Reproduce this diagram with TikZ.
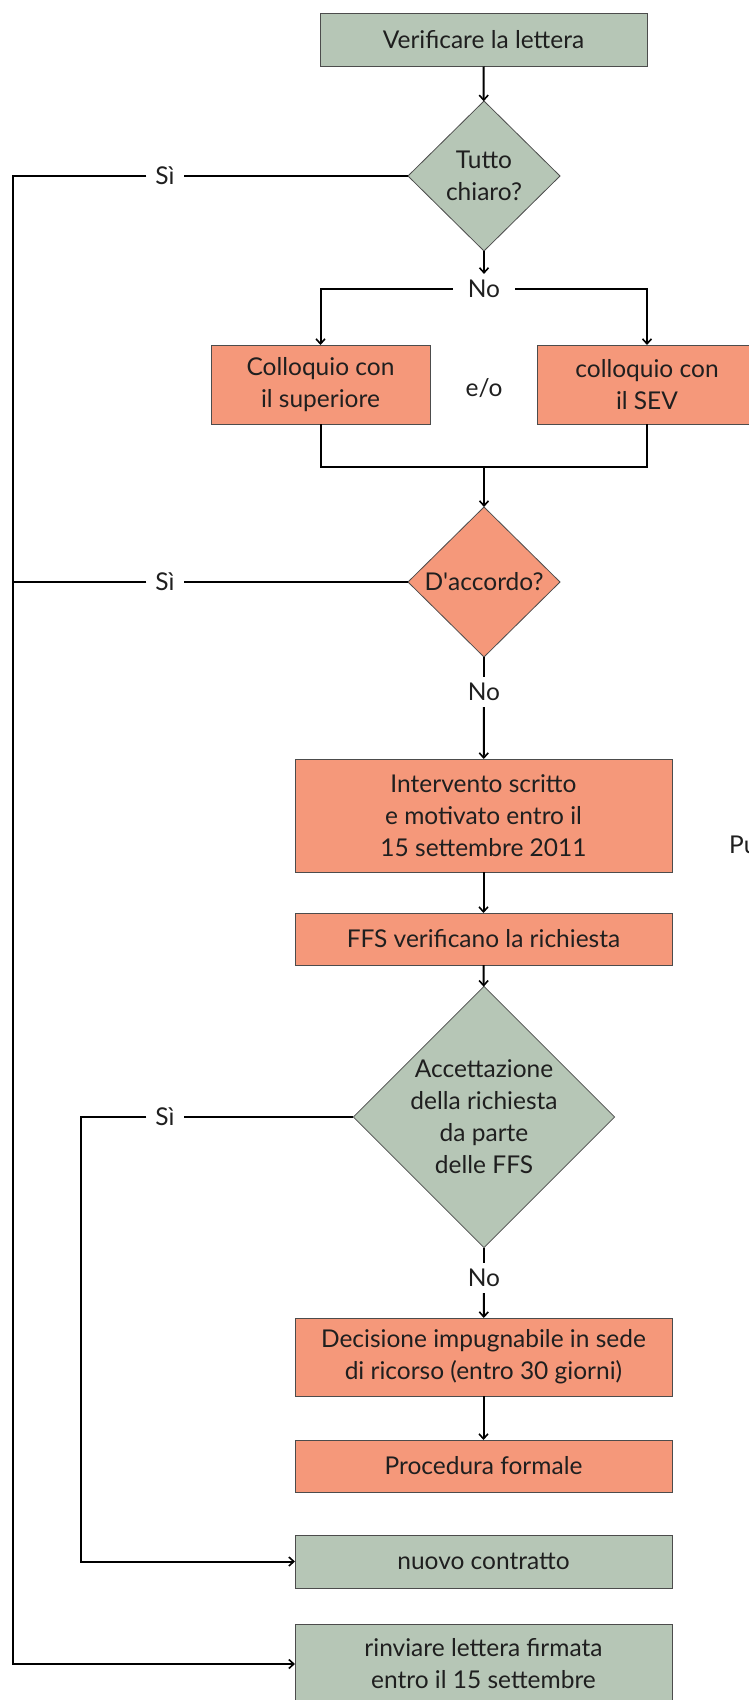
\documentclass[tikz,border=0pt]{standalone}
\usepackage{fontspec}
\setmainfont{Lato}
\usetikzlibrary{shapes.geometric,arrows.meta}
\definecolor{boxgreen}{HTML}{B6C6B6}
\definecolor{boxsalmon}{HTML}{F5987A}
\begin{document}
\begin{tikzpicture}[x=1pt,y=-1pt,
  every node/.style={font=\fontsize{24.5}{32}\selectfont, text=black!88},
  base/.style={draw=black!70, line width=0.8pt, align=center, inner sep=0pt, outer sep=0pt},
  gbox/.style={base, rectangle, fill=boxgreen},
  sbox/.style={base, rectangle, fill=boxsalmon},
  gdia/.style={base, diamond, aspect=1, fill=boxgreen},
  sdia/.style={base, diamond, aspect=1, fill=boxsalmon},
  conn/.style={line width=2pt, black},
  arr/.style={conn, -{Straight Barb[length=5pt,width=9pt,line width=1.6pt]}},
  lbl/.style={inner xsep=9pt, inner ysep=6pt}
]
\useasboundingbox (0,0) rectangle (749,1700);

% nodes
\node[gbox, minimum width=327pt, minimum height=53pt] (verif) at (483.5,40) {Verificare la lettera};
\node[gdia, minimum width=152pt, minimum height=150pt] (chiaro) at (484,176) {Tutto\\chiaro?};
\node[lbl, inner xsep=15pt] (no1) at (484,289) {No};
\node[sbox, minimum width=219pt, minimum height=79pt] (sup) at (320.5,384.5) {Colloquio con\\il superiore};
\node[sbox, minimum width=219pt, minimum height=79pt] (sev) at (647,384.5) {colloquio con\\il SEV};
\node (eo) at (484,388) {e/o};
\coordinate (join) at (484,467);
\node[sdia, minimum width=152pt, minimum height=150pt] (accordo) at (484,582) {D\textquotesingle accordo?};
\node[lbl] (no2) at (484,692) {No};
\node[sbox, minimum width=377pt, minimum height=113pt] (interv) at (483.5,815.5) {Intervento scritto\\e motivato entro il\\15 settembre 2011};
\node[anchor=west, inner sep=0pt] (pu) at (729,845) {Pu};
\node[sbox, minimum width=377pt, minimum height=52pt] (ffs) at (483.5,939) {FFS verificano la richiesta};
\node[gdia, minimum width=250pt, minimum height=250pt] (accett) at (484,1117) {Accettazione\\della richiesta\\da parte\\delle FFS};
\node[lbl] (no3) at (484,1278) {No};
\node[sbox, minimum width=377pt, minimum height=78pt] (dec) at (483.5,1357) {Decisione impugnabile in sede\\di ricorso (entro 30 giorni)};
\node[sbox, minimum width=377pt, minimum height=52pt] (proc) at (483.5,1466) {Procedura formale};
\node[gbox, minimum width=377pt, minimum height=53pt] (nuovo) at (483.5,1561.5) {nuovo contratto};
\node[gbox, minimum width=377pt, minimum height=79pt] (rinv) at (483.5,1664) {rinviare lettera firmata\\entro il 15 settembre};

\node[lbl] (si1) at (165,176) {Sì};
\node[lbl] (si2) at (165,582) {Sì};
\node[lbl] (si3) at (165,1117) {Sì};

\coordinate (c1) at (13,176);
\coordinate (c2) at (13,582);
\coordinate (c3) at (13,1664);
\coordinate (d1) at (81,1117);
\coordinate (d2) at (81,1561.5);

% connectors
\draw[arr] (verif) -- (chiaro);
\draw[arr] (chiaro) -- (no1);
\draw[arr] (no1.west) -| (sup.north);
\draw[arr] (no1.east) -| (sev.north);
\draw[conn] (sup.south) |- (join) -| (sev.south);
\draw[arr] (join) -- (accordo);

\draw[conn] (chiaro.west) -- (si1.east);
\draw[arr] (si1.west) -- (c1) -- (c3) -- (rinv.west);
\draw[conn] (accordo.west) -- (si2.east);
\draw[conn] (si2.west) -- (c2);

\draw[conn] (accordo) -- (no2);
\draw[arr] (no2) -- (interv);
\draw[arr] (interv) -- (ffs);
\draw[arr] (ffs) -- (accett);

\draw[conn] (accett.west) -- (si3.east);
\draw[arr] (si3.west) -- (d1) -- (d2) -- (nuovo.west);
\draw[conn] (accett) -- (no3);
\draw[arr] (no3) -- (dec);
\draw[arr] (dec) -- (proc);
\end{tikzpicture}
\end{document}
